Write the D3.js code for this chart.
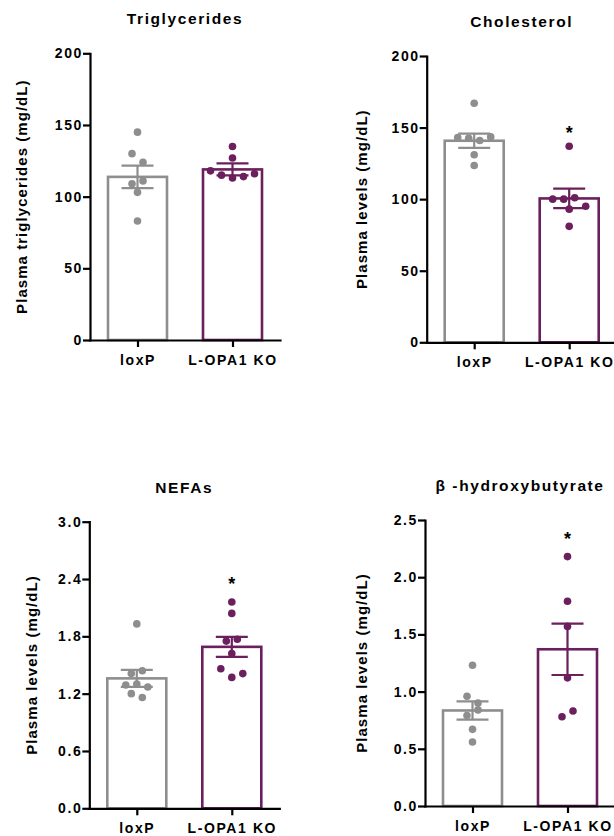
<!DOCTYPE html>
<html>
<head>
<meta charset="utf-8">
<script src="https://cdn.jsdelivr.net/npm/d3@7"></script>
<style>
  body { margin: 0; background: #fff; }
  svg text { font-family: "Liberation Sans", Arial, sans-serif; font-weight: bold; fill: #000; }
</style>
</head>
<body>
<svg id="chart" width="614" height="836"></svg>
<script>
// groups and panel texts
var groups = ["loxP", "L-OPA1 KO"];
var titles = ["Triglycerides", "Cholesterol", "NEFAs", "\u03b2 -hydroxybutyrate"];
var yLabels = ["Plasma triglycerides (mg/dL)", "Plasma levels (mg/dL)", "Plasma levels (mg/dL)", "Plasma levels (mg/dL)"];
var yMax = [200, 200, 3.0, 2.5];
var yTicks = [
  [0, 50, 100, 150, 200],
  [0, 50, 100, 150, 200],
  [0, 0.6, 1.2, 1.8, 2.4, 3.0],
  [0, 0.5, 1.0, 1.5, 2.0, 2.5]
];
var tickFmt = ["d", "d", ".1f", ".1f"];

// mean +/- SEM, [loxP, KO]
var tgMean = [113.8, 119.0], tgSem = [7.8, 4.2];
var cholMean = [140.8, 100.5], cholSem = [5.0, 6.8];
var nefaMean = [1.36, 1.69], nefaSem = [0.09, 0.105];
var bhbMean = [0.835, 1.37], bhbSem = [0.08, 0.225];

// individual animals
var tgLoxP = [145, 130, 124, 109, 111, 103, 83];
var tgKO = [135, 127, 118, 115, 113, 114, 116];
var cholLoxP = [167, 143, 142.5, 141, 143.5, 131, 123.5];
var cholKO = [137, 100, 100, 101, 95, 93, 81];
var nefaLoxP = [1.93, 1.41, 1.44, 1.29, 1.30, 1.27, 1.20, 1.16];
var nefaKO = [2.16, 2.04, 1.75, 1.77, 1.62, 1.46, 1.37, 1.41];
var bhbLoxP = [1.23, 0.96, 0.90, 0.79, 0.84, 0.67, 0.56];
var bhbKO = [2.18, 1.79, 1.57, 1.12, 0.78, 0.83];

// height of the significance star over KO (null = none)
var stars = [null, 149, 2.39, 2.37];

var means = [tgMean, cholMean, nefaMean, bhbMean];
var sems = [tgSem, cholSem, nefaSem, bhbSem];
var points = [[tgLoxP, tgKO], [cholLoxP, cholKO], [nefaLoxP, nefaKO], [bhbLoxP, bhbKO]];

var colors = ["#8e8e8e", "#6b1f5d"];

// where each panel's axes sit on the page
var layout = [
  { x: 90, top: 53.3, bottom: 340, len: 190, labelDx: -68 },
  { x: 426.7, top: 56, bottom: 342.3, len: 190, labelDx: -65 },
  { x: 89.3, top: 521.7, bottom: 808.3, len: 190, labelDx: -58 },
  { x: 425, top: 520, bottom: 806, len: 190, labelDx: -63 }
];
var barW = 59, dotR = 3.8, capW = 32, dotStep = 11, rowGap = 9;

var svg = d3.select("#chart");

// simple row beeswarm: close values share a row, centered, in data order
function swarm(vals, y) {
  var idx = vals.map(function (v, i) { return i; })
    .sort(function (a, b) { return y(vals[a]) - y(vals[b]); });
  var off = new Array(vals.length), rows = [], cur = null;
  idx.forEach(function (i) {
    var py = y(vals[i]);
    if (cur && py - cur.y0 < rowGap) cur.items.push(i);
    else { cur = { y0: py, items: [i] }; rows.push(cur); }
  });
  rows.forEach(function (r) {
    r.items.sort(function (a, b) { return a - b; });
    r.items.forEach(function (i, k) { off[i] = (k - (r.items.length - 1) / 2) * dotStep; });
  });
  return off;
}

layout.forEach(function (L, p) {
  var g = svg.append("g").attr("transform", "translate(" + L.x + "," + L.top + ")");
  var h = L.bottom - L.top;

  var x = d3.scalePoint().domain(groups).range([0, L.len]).padding(0.5);
  var y = d3.scaleLinear().domain([0, yMax[p]]).range([h, 0]);

  // bars
  g.selectAll(".bar")
    .data(groups)
    .enter()
    .append("rect")
    .attr("x", function (d) { return x(d) - barW / 2; })
    .attr("y", function (d, i) { return y(means[p][i]); })
    .attr("width", barW)
    .attr("height", function (d, i) { return h - y(means[p][i]); })
    .attr("fill", "#fff")
    .attr("stroke", function (d, i) { return colors[i]; })
    .attr("stroke-width", 2.6);

  // error bars
  groups.forEach(function (grp, i) {
    var cx = x(grp), hi = y(means[p][i] + sems[p][i]), lo = y(means[p][i] - sems[p][i]);
    var eg = g.append("g").attr("stroke", colors[i]).attr("stroke-width", 2.2);
    eg.append("line").attr("x1", cx).attr("x2", cx).attr("y1", hi).attr("y2", lo);
    eg.append("line").attr("x1", cx - capW / 2).attr("x2", cx + capW / 2).attr("y1", hi).attr("y2", hi);
    eg.append("line").attr("x1", cx - capW / 2).attr("x2", cx + capW / 2).attr("y1", lo).attr("y2", lo);
  });

  // dots
  groups.forEach(function (grp, i) {
    var vals = points[p][i], off = swarm(vals, y);
    g.selectAll(".dot" + i)
      .data(vals)
      .enter()
      .append("circle")
      .attr("cx", function (d, k) { return x(grp) + off[k]; })
      .attr("cy", function (d) { return y(d); })
      .attr("r", dotR)
      .attr("fill", colors[i]);
  });

  // star
  if (stars[p] != null) {
    g.append("text")
      .attr("x", x(groups[1]))
      .attr("y", y(stars[p]) + 10)
      .attr("text-anchor", "middle")
      .style("font-size", "18px")
      .text("*");
  }

  // axes
  var yAxis = g.append("g")
    .call(d3.axisLeft(y).tickValues(yTicks[p]).tickFormat(d3.format(tickFmt[p])).tickSize(7).tickSizeOuter(0).tickPadding(0));
  var xAxis = g.append("g")
    .attr("transform", "translate(0," + h + ")")
    .call(d3.axisBottom(x).tickSize(7).tickSizeOuter(0).tickPadding(8));
  [yAxis, xAxis].forEach(function (a) {
    a.select(".domain").attr("stroke-width", 2.2).attr("stroke-linecap", "square");
    a.selectAll(".tick line").attr("stroke-width", 2.2);
    a.selectAll("text")
      .style("font-family", "'Liberation Sans', Arial, sans-serif")
      .style("font-weight", "bold")
      .style("font-size", "14px")
      .style("letter-spacing", "1.6px");
  });

  // title
  g.append("text")
    .attr("x", L.len / 2)
    .attr("y", -29)
    .attr("text-anchor", "middle")
    .style("font-size", "15.5px")
    .style("letter-spacing", "1.6px")
    .text(titles[p]);

  // y label
  g.append("text")
    .attr("transform", "translate(" + L.labelDx + "," + (h / 2) + ") rotate(-90)")
    .attr("text-anchor", "middle")
    .attr("dy", "0.36em")
    .style("font-size", "15px")
    .style("letter-spacing", "1.05px")
    .text(yLabels[p]);
});
</script>
</body>
</html>
